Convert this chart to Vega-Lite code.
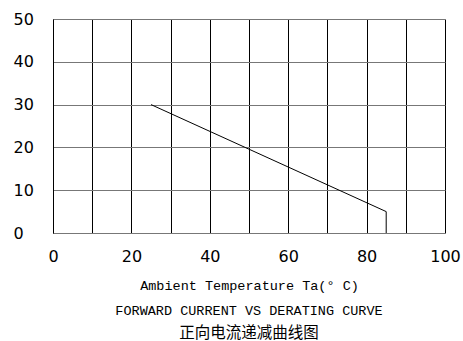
{
  "$schema": "https://vega.github.io/schema/vega-lite/v6.json",
  "width": 392,
  "height": 214,
  "autosize": {"type": "none"},
  "padding": {"left": 53, "top": 19, "right": 18, "bottom": 108},
  "background": "white",
  "config": {"view": {"stroke": null}},
  "title": {
    "text": "FORWARD CURRENT VS DERATING CURVE",
    "subtitle": "正向电流递减曲线图",
    "orient": "bottom",
    "anchor": "middle",
    "font": "Liberation Mono",
    "fontSize": 13.5,
    "fontWeight": "normal",
    "color": "black",
    "subtitleFont": "Noto Sans CJK SC",
    "subtitleFontSize": 15.5,
    "subtitleColor": "black",
    "subtitlePadding": 9,
    "offset": 12
  },
  "data": {
    "values": [
      {"seq": 1, "temp": 25, "current": 30},
      {"seq": 2, "temp": 85, "current": 5},
      {"seq": 3, "temp": 85, "current": 0}
    ]
  },
  "mark": {"type": "line", "color": "black", "strokeWidth": 1},
  "encoding": {
    "x": {
      "field": "temp",
      "type": "quantitative",
      "scale": {"domain": [0, 100], "nice": false, "zero": false},
      "axis": {
        "values": [0, 10, 20, 30, 40, 50, 60, 70, 80, 90, 100],
        "labelExpr": "datum.value % 20 == 0 ? datum.label : ''",
        "grid": true,
        "gridColor": "black",
        "gridOpacity": 1,
        "gridWidth": 1,
        "domainColor": "#777777",
        "domainWidth": 1,
        "ticks": false,
        "tickSize": 0,
        "labelPadding": 15,
        "labelFont": "DejaVu Sans",
        "labelFontSize": 16,
        "labelColor": "black",
        "labelFlush": false,
        "labelOverlap": false,
        "labelBound": false,
        "title": "Ambient Temperature Ta(° C)",
        "titleFont": "Liberation Mono",
        "titleFontSize": 13.5,
        "titleFontWeight": "normal",
        "titleColor": "black",
        "titlePadding": 14
      }
    },
    "y": {
      "field": "current",
      "type": "quantitative",
      "scale": {"domain": [0, 50], "nice": false},
      "axis": {
        "values": [0, 10, 20, 30, 40, 50],
        "grid": true,
        "gridColor": "#777777",
        "gridOpacity": 1,
        "gridWidth": 1,
        "domainColor": "black",
        "domainWidth": 1,
        "ticks": false,
        "tickSize": 0,
        "labelAlign": "left",
        "labelBaseline": "middle",
        "labelPadding": 40,
        "labelFont": "DejaVu Sans",
        "labelFontSize": 16,
        "labelColor": "black",
        "labelFlush": false,
        "labelOverlap": false,
        "labelBound": false,
        "title": null
      }
    },
    "order": {"field": "seq", "type": "quantitative"}
  }
}
